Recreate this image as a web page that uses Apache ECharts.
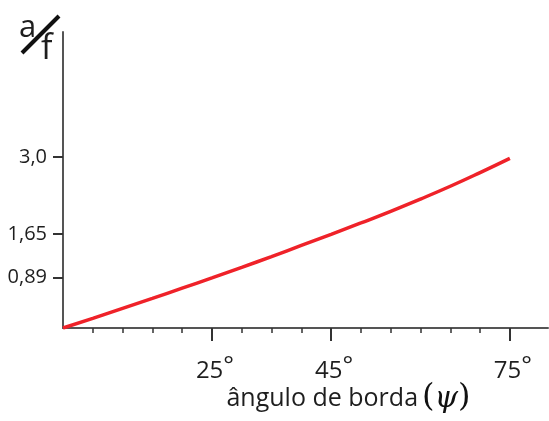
<!DOCTYPE html>
<html>
<head>
<meta charset="utf-8">
<script src="https://cdn.jsdelivr.net/npm/echarts@6/dist/echarts.min.js"></script>
<style>
html,body{margin:0;padding:0;background:#fff;}
#chart{width:549px;height:421px;}
</style>
</head>
<body>
<div id="chart"></div>
<script>
// rim angle (degrees) and a/f values
const angles = [0, 5, 10, 15, 20, 25, 30, 35, 40, 45, 50, 55, 60, 65, 70, 75];
const afValues = [0, 0.17, 0.345, 0.52, 0.70, 0.88, 1.065, 1.255, 1.45, 1.645, 1.845, 2.05, 2.265, 2.49, 2.73, 2.98];

const xMinorTicks = [5, 10, 15, 20, 25, 30, 35, 40, 45, 50, 55, 60, 65, 70, 75];
const xMajorTicks = [25, 45, 75];
const xTickLabels = ['25', '45', '75'];
const yTickValues = [0.89, 1.65, 3.0];
const yTickLabels = ['0,89', '1,65', '3,0'];

const font = 'Open Sans';
const textColor = '#1e1e1e';
const axisColor = '#555555';

const chart = echarts.init(document.getElementById('chart'), null, {renderer: 'canvas'});

const seriesData = angles.map((a, i) => [a, afValues[i]]);

chart.setOption({
  animation: false,
  backgroundColor: '#ffffff',
  grid: {left: 63, top: 32, right: 1, bottom: 93, containLabel: false},
  xAxis: [
    {
      type: 'value', min: 0, max: 81.4,
      axisLine: {show: true, lineStyle: {color: axisColor, width: 2}},
      axisTick: {show: true, customValues: xMinorTicks, length: 5, lineStyle: {color: '#333', width: 1.5}},
      axisLabel: {show: false},
      splitLine: {show: false},
      name: '{t|ângulo de borda}{p|(}{s|ψ}{p|)}',
      nameLocation: 'middle',
      nameGap: 54,
      nameTextStyle: {
        padding: [0, 0, 0, 86],
        rich: {
          t: {fontFamily: font, fontSize: 25, color: textColor, verticalAlign: 'bottom', padding: [0, 4, 3, 0]},
          p: {fontFamily: 'DejaVu Serif', fontSize: 32, color: '#111', verticalAlign: 'bottom'},
          s: {fontFamily: 'DejaVu Serif', fontStyle: 'italic', fontSize: 30, color: '#111', verticalAlign: 'bottom'}
        }
      }
    },
    {
      type: 'value', min: 0, max: 81.4, position: 'bottom',
      axisLine: {show: false},
      axisTick: {show: true, customValues: xMajorTicks, length: 13, lineStyle: {color: '#333', width: 2}},
      axisLabel: {
        show: true, customValues: xMajorTicks, margin: 26,
        formatter: (v) => '{n|' + xTickLabels[xMajorTicks.indexOf(v)] + '}{d|°}',
        rich: {
          n: {fontFamily: font, fontSize: 24, color: textColor, padding: [0, 0, 0, 6]},
          d: {fontFamily: font, fontSize: 25, color: textColor, padding: [0, 0, 9, 0]}
        }
      },
      splitLine: {show: false}
    }
  ],
  yAxis: {
    type: 'value', min: 0, max: 5.2,
    axisLine: {show: true, lineStyle: {color: axisColor, width: 2}},
    axisTick: {show: true, customValues: yTickValues, length: 10, lineStyle: {color: '#333', width: 2}},
    axisLabel: {
      show: true, customValues: yTickValues, margin: 16,
      fontFamily: font, fontSize: 20, color: textColor,
      formatter: (v) => yTickLabels[yTickValues.indexOf(v)]
    },
    splitLine: {show: false}
  },
  series: [{
    type: 'line',
    data: seriesData,
    smooth: true,
    showSymbol: false,
    lineStyle: {color: '#ef2229', width: 3.5},
    z: 5
  }],
  graphic: [
    {type: 'text', left: 19, top: 13, style: {text: 'a', fontFamily: font, fontSize: 31, fill: textColor}},
    {type: 'line', shape: {x1: 22, y1: 53, x2: 59, y2: 16}, style: {stroke: '#111', lineWidth: 4}},
    {type: 'text', left: 41, top: 32, style: {text: 'f', fontFamily: font, fontSize: 34, fill: textColor}}
  ]
});
</script>
</body>
</html>
